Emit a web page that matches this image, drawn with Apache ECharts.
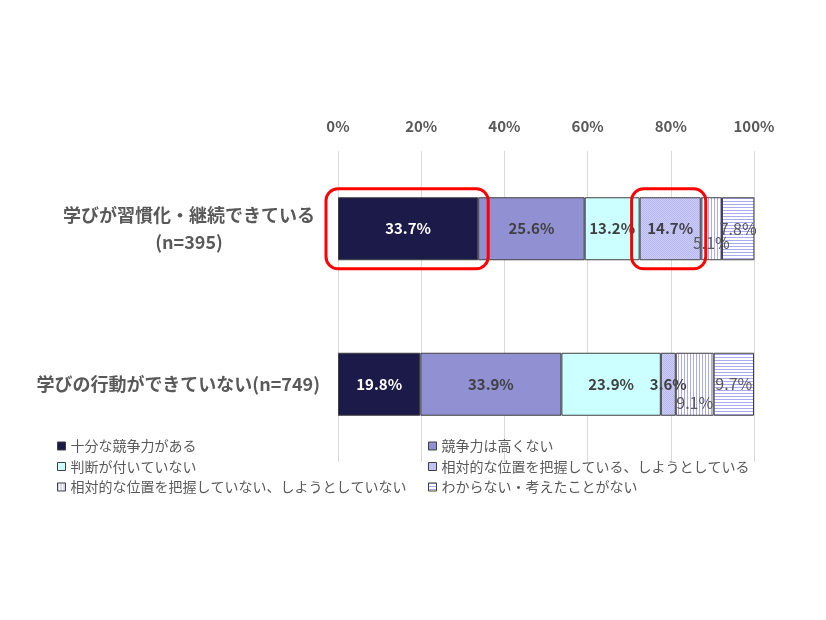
<!DOCTYPE html>
<html>
<head>
<meta charset="utf-8">
<script src="https://cdn.jsdelivr.net/npm/echarts@6/dist/echarts.min.js"></script>
<style>
html,body{margin:0;padding:0;background:#fff;}
#c{width:826px;height:620px;}
</style>
</head>
<body>
<div id="c"></div>
<script>
// ---- data ----
const categories = ['学びが習慣化・継続できている', '学びの行動ができていない'];
const sampleSizes = ['(n=395)', '(n=749)'];
const seriesNames = [
  '十分な競争力がある',
  '競争力は高くない',
  '判断が付いていない',
  '相対的な位置を把握している、しようとしている',
  '相対的な位置を把握していない、しようとしていない',
  'わからない・考えたことがない'
];
const valuesS1 = [33.7, 19.8];
const valuesS2 = [25.6, 33.9];
const valuesS3 = [13.2, 23.9];
const valuesS4 = [14.7, 3.6];
const valuesS5 = [5.1, 9.1];
const valuesS6 = [7.8, 9.7];
const xTicks = [0, 20, 40, 60, 80, 100];

// ---- patterns ----
function pat(w, h, draw) {
  const c = document.createElement('canvas');
  c.width = w; c.height = h;
  const g = c.getContext('2d');
  draw(g);
  return {image: c, repeat: 'repeat'};
}
const patDots = pat(2, 2, g => {
  g.fillStyle = '#ccccff'; g.fillRect(0, 0, 2, 2);
  g.fillStyle = '#b8b8ee'; g.fillRect(0, 0, 1, 1); g.fillRect(1, 1, 1, 1);
});
const patV = pat(3, 3, g => {
  g.fillStyle = '#ffffff'; g.fillRect(0, 0, 3, 3);
  g.fillStyle = '#aaaaf0'; g.fillRect(0, 0, 1, 3);
});
const patH = pat(3, 3, g => {
  g.fillStyle = '#ffffff'; g.fillRect(0, 0, 3, 3);
  g.fillStyle = '#aaaaf0'; g.fillRect(0, 0, 3, 1);
});

const FONT = '"Noto Sans CJK JP", "Noto Sans", sans-serif';
const fills = ['#1c1a48', '#9090d2', '#ccffff', patDots, patV, patH];
const allValues = [valuesS1, valuesS2, valuesS3, valuesS4, valuesS5, valuesS6];
const labelStyles = [
  {color: '#ffffff', fontWeight: 'bold', fontSize: 15},
  {color: '#404040', fontWeight: 'bold', fontSize: 15},
  {color: '#404040', fontWeight: 'bold', fontSize: 15},
  {color: '#404040', fontWeight: 'bold', fontSize: 15},
  {color: '#595959', fontWeight: 'normal', fontSize: 16},
  {color: '#595959', fontWeight: 'normal', fontSize: 16}
];
const s5Shift = [14, 19];

const series = allValues.map((vals, si) => ({
  name: seriesNames[si],
  type: 'bar',
  stack: 'total',
  barWidth: 63,
  itemStyle: {color: fills[si], borderColor: '#3f3f3f', borderWidth: 1},
  label: {
    show: true,
    position: 'inside',
    fontFamily: FONT,
    fontSize: labelStyles[si].fontSize,
    color: labelStyles[si].color,
    fontWeight: labelStyles[si].fontWeight,
    formatter: p => p.value.toFixed(1) + '%'
  },
  labelLayout: si === 4
    ? (p => ({dy: s5Shift[p.dataIndex], hideOverlap: false}))
    : {hideOverlap: false},
  data: vals
}));

const chart = echarts.init(document.getElementById('c'), null, {renderer: 'canvas'});
const legendText = {color: '#595959', fontSize: 14, fontFamily: FONT};
chart.setOption({
  animation: false,
  backgroundColor: '#ffffff',
  grid: {left: 338, right: 72, top: 151, bottom: 158, containLabel: false},
  xAxis: {
    type: 'value',
    position: 'top',
    min: xTicks[0],
    max: xTicks[xTicks.length - 1],
    interval: xTicks[1] - xTicks[0],
    axisLine: {show: false},
    axisTick: {show: false},
    splitLine: {show: true, lineStyle: {color: '#d9d9d9', width: 1}},
    axisLabel: {
      formatter: '{value}%',
      color: '#595959',
      fontWeight: 'bold',
      fontSize: 15,
      fontFamily: FONT,
      margin: 17
    }
  },
  yAxis: {
    type: 'category',
    inverse: true,
    data: categories,
    axisLine: {show: false},
    axisTick: {show: false},
    axisLabel: {
      margin: 18,
      color: '#595959',
      fontWeight: 'bold',
      fontSize: 18,
      fontFamily: FONT,
      formatter: (v, i) => i === 0
        ? '{c|' + v + '}\n{c|' + sampleSizes[i] + '}'
        : '{b|' + v + sampleSizes[i] + '}',
      rich: {
        c: {width: 262, align: 'center', lineHeight: 27, color: '#595959', fontWeight: 'bold', fontSize: 18, fontFamily: FONT},
        b: {color: '#595959', fontWeight: 'bold', fontSize: 18, fontFamily: FONT}
      }
    }
  },
  legend: [
    {
      orient: 'vertical', left: 52, top: 434,
      itemWidth: 8, itemHeight: 8, itemGap: 6.5,
      icon: 'rect',
      data: [seriesNames[0], seriesNames[2], seriesNames[4]],
      textStyle: legendText,
      itemStyle: {borderColor: '#3f3f3f', borderWidth: 1}
    },
    {
      orient: 'vertical', left: 423, top: 434,
      itemWidth: 8, itemHeight: 8, itemGap: 6.5,
      icon: 'rect',
      data: [seriesNames[1], seriesNames[3], seriesNames[5]],
      textStyle: legendText,
      itemStyle: {borderColor: '#3f3f3f', borderWidth: 1}
    }
  ],
  series: series
});

// ---- red highlight boxes, positioned from the chart's own scales ----
function box(cat, fromVal, toVal, padL, padR) {
  const xa = chart.convertToPixel({xAxisIndex: 0}, fromVal);
  const xb = chart.convertToPixel({xAxisIndex: 0}, toVal);
  const yc = chart.convertToPixel({yAxisIndex: 0}, cat);
  return {
    type: 'rect',
    shape: {x: xa - padL, y: yc - 40, width: xb - xa + padL + padR, height: 80, r: 12},
    style: {fill: 'none', stroke: '#ff0000', lineWidth: 3},
    z: 100
  };
}
const c0 = 0;
const s4Start = valuesS1[c0] + valuesS2[c0] + valuesS3[c0];
chart.setOption({
  graphic: [
    box(c0, 0, valuesS1[c0], 12, 10),
    box(c0, s4Start, s4Start + valuesS4[c0], 8, 5)
  ]
});
</script>
</body>
</html>
